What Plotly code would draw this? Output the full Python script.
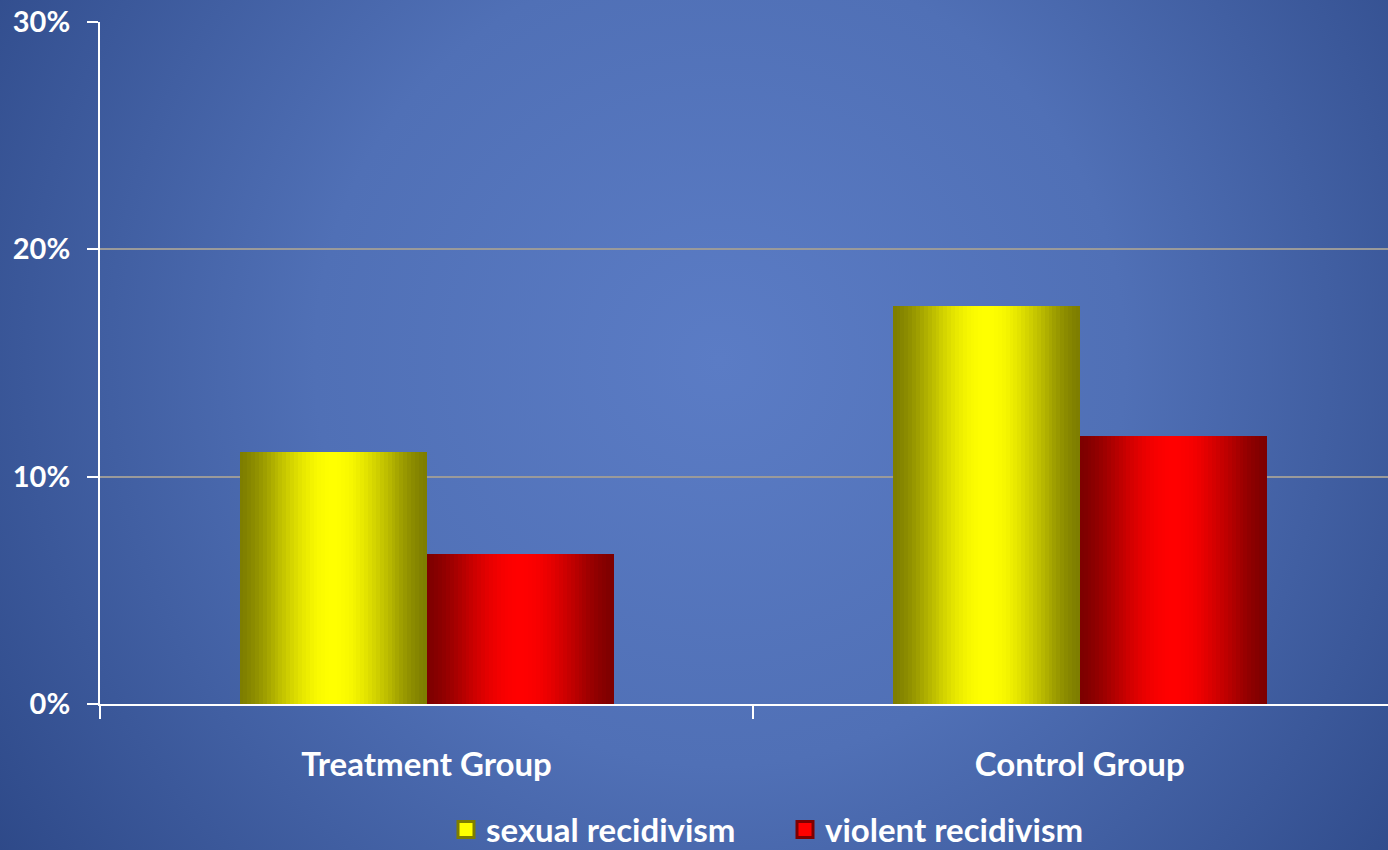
import math
import urllib.parse
import plotly.graph_objects as go

categories = ["Treatment Group", "Control Group"]
sexual_recidivism = [11.1, 17.5]
violent_recidivism = [6.6, 11.8]
y_tickvals = [0, 10, 20, 30]
y_ticktext = ["0%", "10%", "20%", "30%"]

series = [
    ("sexual recidivism", sexual_recidivism, (125, 125, 0), (255, 255, 0), -1),
    ("violent recidivism", violent_recidivism, (125, 0, 0), (255, 0, 0), 0),
]

BAR_W = 0.2864
N = 48

fig = go.Figure()


def shade(dark, bright, t):
    f = math.sin(math.pi * t) ** 1.5
    return "rgb(%d,%d,%d)" % tuple(round(d + (b - d) * f) for d, b in zip(dark, bright))


for name, vals, dark, bright, side in series:
    start = side * BAR_W
    sw = BAR_W / N
    for i in range(N):
        t = (i + 0.5) / N
        fig.add_trace(go.Bar(
            x=categories, y=vals, name=name,
            width=sw * 1.08, offset=start + i * sw,
            marker=dict(color=shade(dark, bright, t), line=dict(width=0)),
            showlegend=False, hoverinfo="skip" if i != N // 2 else None,
        ))
    fig.add_trace(go.Scatter(
        x=[None], y=[None], name=name, mode="markers",
        marker=dict(symbol="square", size=16, color="rgb(%d,%d,%d)" % bright,
                    line=dict(color="rgb(%d,%d,%d)" % dark, width=3)),
        showlegend=True,
    ))

svg = (
    "<svg xmlns='http://www.w3.org/2000/svg' width='1388' height='850' viewBox='0 0 1388 850'>"
    "<defs><radialGradient id='g' cx='720' cy='360' r='900' gradientUnits='userSpaceOnUse'>"
    "<stop offset='0' stop-color='#5b7cc5'/>"
    "<stop offset='0.45' stop-color='#5070b6'/>"
    "<stop offset='1' stop-color='#2c4786'/>"
    "</radialGradient></defs>"
    "<rect width='1388' height='850' fill='url(#g)'/></svg>"
)
uri = "data:image/svg+xml;charset=utf-8," + urllib.parse.quote(svg)

fig.update_layout(
    width=1388, height=850,
    margin=dict(l=100, r=0, t=22, b=146, autoexpand=False),
    paper_bgcolor="#4a69af",
    plot_bgcolor="rgba(0,0,0,0)",
    barmode="overlay",
    bargap=0,
    font=dict(family="Lato", color="white", size=30),
    images=[dict(source=uri, xref="paper", yref="paper", x=-100 / 1288, y=1 + 22 / 682,
                 sizex=1388 / 1288, sizey=850 / 682, xanchor="left", yanchor="top",
                 sizing="stretch", layer="below")],
    legend=dict(orientation="h", x=(785 - 100) / 1288, xanchor="center",
                y=-0.184, yanchor="middle",
                font=dict(size=33, family="Lato", color="white", weight="bold"),
                bgcolor="rgba(0,0,0,0)", itemsizing="trace", entrywidth=294),
    showlegend=True,
)

fig.update_xaxes(
    range=[-0.5, 1.472], showgrid=False, showline=True, linecolor="white", linewidth=2,
    ticks="outside", tickson="boundaries", ticklen=13, tickwidth=2, tickcolor="white",
    tickfont=dict(size=33, family="Lato", color="white", weight="bold"), ticklabelstandoff=30,
    zeroline=False, fixedrange=True,
)
fig.update_yaxes(
    range=[0, 30], tickvals=y_tickvals, ticktext=y_ticktext,
    showgrid=True, gridcolor="#9a9a9a", gridwidth=2,
    showline=True, linecolor="white", linewidth=2,
    ticks="outside", ticklen=11, tickwidth=2, tickcolor="white",
    tickfont=dict(size=29, family="Lato", color="white", weight="bold"), ticklabelstandoff=11,
    zeroline=False, fixedrange=True,
)

fig.write_html("out.html", config={"displayModeBar": False},
               post_script="document.body.style.margin='0';document.body.style.overflow='hidden';")
